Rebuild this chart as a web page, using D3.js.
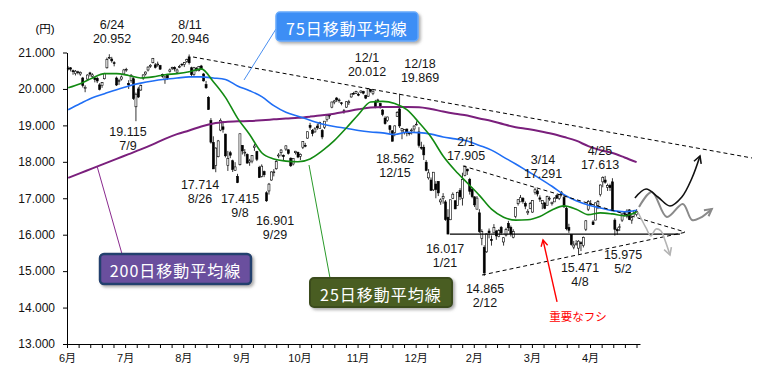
<!DOCTYPE html>
<html>
<head>
<meta charset="utf-8">
<script src="https://cdn.jsdelivr.net/npm/d3@7"></script>
<style>
  body { margin: 0; background: #fff; }
  text { font-family: "Liberation Sans", Arial, "Noto Sans CJK JP", sans-serif; }
</style>
</head>
<body>
<div id="chart-area"></div>
<script>
// daily candles [open, high, low, close], trading days from 2015/6/1 to 2016/5/18
var candles = [
  // 2015 Jun
  [20570,20620,20510,20569],[20580,20600,20480,20543],[20500,20530,20390,20473],[20420,20520,20370,20488],
  [20470,20500,20400,20460],[20410,20480,20360,20457],[20300,20330,20040,20096],[20010,20100,19910,20046],
  [20270,20400,20230,20382],[20440,20470,20340,20407],[20340,20430,20290,20387],[20300,20320,20180,20257],
  [20290,20330,20160,20219],[20110,20160,19960,19990],[20090,20190,20030,20174],[20280,20440,20260,20428],
  [20580,20860,20560,20809],[20850,20952,20820,20868],[20820,20880,20720,20771],[20720,20760,20620,20706],
  [20300,20340,20080,20109],[20210,20280,20110,20235],
  // Jul
  [20270,20370,20230,20329],[20410,20550,20400,20522],[20520,20580,20470,20539],[20150,20240,20000,20112],
  [20230,20410,20170,20376],[20280,20320,19700,19737],[19510,19900,19115,19855],[20000,20060,19750,19779],
  [19970,20120,19950,20089],[20300,20400,20250,20385],[20410,20480,20370,20463],[20520,20620,20480,20600],
  [20620,20680,20580,20650],[20720,20850,20700,20841],[20660,20710,20560,20593],[20670,20750,20610,20683],
  [20640,20660,20520,20544],[20400,20420,20310,20350],[20250,20370,20140,20328],[20370,20380,20250,20302],
  [20480,20560,20450,20522],[20580,20610,20520,20585],
  // Aug
  [20590,20620,20480,20548],[20460,20560,20440,20520],[20600,20660,20570,20614],[20680,20700,20620,20664],
  [20670,20740,20600,20724],[20750,20830,20720,20808],[20880,20946,20670,20720],[20580,20610,20350,20392],
  [20400,20600,20360,20595],[20560,20600,20480,20519],[20500,20630,20480,20620],[20630,20660,20520,20554],
  [20410,20440,20200,20222],[20120,20220,20000,20033],[19770,19800,19430,19435],[19130,19200,18500,18540],
  [18530,18700,17806,17806],[17900,18400,17714,18376],[18140,18600,18120,18574],[18870,19190,18840,19136],
  [18960,19120,18800,18890],
  // Sep
  [18760,18770,18120,18165],[17900,18300,17750,18095],[18250,18300,18100,18182],[18030,18060,17720,17792],
  [17760,17990,17750,17860],[17600,17670,17415,17427],[17920,18770,17900,18770],[18450,18460,18200,18299],
  [18240,18350,18150,18264],[18200,18230,17950,17965],[17990,18080,17890,18026],[18020,18180,17960,18171],
  [18390,18490,18300,18432],[18280,18300,18020,18070],[17840,17890,17560,17571],[17600,17930,17570,17880],
  [17730,17760,17580,17645],[17150,17190,16901,16930],[17200,17420,17100,17388],
  // Oct
  [17500,17740,17480,17722],[17700,17800,17600,17725],[17810,18050,17780,18005],[18160,18240,18100,18186],
  [18250,18350,18150,18322],[18180,18200,18050,18141],[18350,18450,18300,18438],[18330,18340,18200,18234],
  [18100,18120,17860,17891],[17940,18100,17900,18096],[18250,18300,18200,18291],[18260,18280,18100,18131],
  [18150,18230,18050,18207],[18400,18560,18350,18554],[18450,18520,18400,18435],[18650,18830,18630,18825],
  [19000,19070,18880,18947],[18860,18900,18700,18777],[18820,18950,18800,18903],[18980,19050,18880,18935],
  [18910,19100,18900,19083],
  // Nov
  [18860,18900,18620,18683],[18950,19120,18900,19116],[19160,19280,19100,19265],[19280,19290,19180,19265],
  [19500,19650,19470,19642],[19640,19700,19580,19671],[19750,19780,19640,19697],[19680,19740,19620,19697],
  [19620,19640,19550,19596],[19400,19450,19320,19394],[19500,19660,19480,19649],[19620,19700,19560,19649],
  [19780,19880,19760,19860],[19880,19920,19840,19879],[19880,19950,19860,19925],[19850,19900,19800,19847],
  [19900,19960,19880,19944],[19930,19950,19850,19884],[19820,19840,19720,19747],
  // Dec
  [19800,20012,19780,20012],[19990,20000,19900,19938],[19870,19960,19830,19939],[19650,19700,19470,19504],
  [19680,19730,19620,19698],[19600,19620,19460,19492],[19420,19450,19250,19301],[19200,19250,19020,19046],
  [19130,19240,19100,19230],[18990,19010,18780,18883],[18850,18870,18562,18565],[18800,19000,18700,18986],
  [19250,19390,19230,19353],[19450,19869,18930,18986],[18850,18920,18620,18916],[18800,18900,18750,18886],
  [18900,18910,18700,18789],[18800,18820,18720,18769],[18850,18920,18750,18873],[18900,19000,18820,18982],
  [19030,19110,19000,19033],
  // 2016 Jan
  [18820,18950,18390,18450],[18400,18550,18330,18374],[18400,18470,18050,18191],[17990,18050,17740,17767],
  [17560,17800,17510,17697],[17500,17570,17200,17218],[17230,17720,17200,17715],[17390,17470,17000,17240],
  [17460,17470,17060,17147],[16900,17000,16820,16955],[17000,17140,16850,17048],[16900,16950,16380,16416],
  [16480,16700,16017,16017],[16410,16960,16400,16958],[17000,17160,16980,17110],[16930,16950,16700,16708],
  [16800,17180,16800,17163],[17210,17280,16950,17041],[17000,17700,16800,17518],
  // Feb
  [17630,17905,17600,17865],[17800,17810,17640,17750],[17520,17560,17100,17191],[17250,17300,17000,17044],
  [17040,17050,16760,16819],[16700,17060,16700,17004],[16600,16700,16050,16085],[15900,16150,15710,16082],
  [15650,15710,14865,14952],[15530,16030,15500,16022],[16100,16170,15900,16054],[15870,15980,15700,15836],
  [16050,16290,16050,16196],[16100,16130,15860,15967],[15950,16150,15930,16111],[16200,16240,16000,16052],
  [15800,15930,15700,15916],[15990,16190,15950,16140],[16310,16380,16100,16188],[16200,16250,15950,16027],
  // Mar
  [15930,16150,15900,16085],[16500,16750,16450,16747],[16850,16970,16800,16960],[16900,17090,16900,17015],
  [17000,17030,16850,16912],[16860,16910,16700,16784],[16600,16700,16540,16642],[16720,16900,16700,16852],
  [16620,16950,16600,16939],[17160,17291,17100,17234],[17200,17250,17050,17117],[17010,17080,16900,16975],
  [16850,16950,16700,16937],[16870,16900,16700,16725],[16800,17070,16800,17049],[17000,17050,16930,17001],
  [16850,16900,16800,16892],[16900,17030,16900,17003],[17070,17110,16980,17003],[16990,17120,16950,17104],
  [17150,17200,17050,17103],[17020,17090,16750,16759],
  // Apr
  [16720,16760,16120,16164],[16200,16300,16050,16123],[16000,16000,15700,15733],[15660,15830,15600,15715],
  [15750,15850,15700,15750],[15630,15850,15471,15822],[15780,15820,15550,15752],[15700,15950,15650,15928],
  [16150,16400,16100,16381],[16700,16950,16650,16911],[16850,16950,16800,16848],[16350,16400,16270,16275],
  [16400,16880,16400,16874],[16800,16950,16700,16906],[17100,17380,17050,17363],[17450,17600,17300,17572],
  [17500,17613,17400,17440],[17300,17400,17200,17353],[17350,17400,17200,17290],[17450,17550,16650,16666],
  // May
  [16400,16450,15975,16147],[16140,16200,16000,16106],[16200,16300,16100,16216],[16400,16600,16350,16565],
  [16600,16650,16500,16579],[16500,16700,16450,16646],[16680,16700,16400,16412],[16400,16500,16300,16466],
  [16600,16680,16500,16653],[16550,16700,16500,16644]
];

// moving averages read every 5th trading day (day 0, 5, 10 ... 235)
var maStep = 5;
var ma25 = [20030,20140,20300,20420,20420,20370,20300,20330,20390,20420,20470,20550,20200,19770,19200,18750,
  18250,18080,18020,18000,18080,18300,18580,18930,19300,19640,19660,19600,19430,19080,18680,18160,
  17760,17420,17080,16700,16480,16400,16410,16500,16680,16790,16700,16550,16600,16570,16520,16620];
var ma75 = [19430,19600,19760,19870,19980,20080,20160,20220,20265,20300,20330,20330,20300,20260,20080,19950,
  19790,19540,19360,19250,19140,19040,18970,18920,18860,18820,18795,18750,18810,18800,18760,18680,
  18630,18570,18450,18320,18130,17940,17740,17540,17330,17100,16930,16815,16735,16660,16630,16670];
var ma200 = [17560,17690,17820,17950,18080,18210,18340,18480,18630,18760,18860,18970,19050,19090,19110,19120,
  19140,19165,19190,19210,19240,19275,19320,19380,19440,19490,19505,19505,19505,19500,19450,19380,
  19320,19270,19190,19120,19030,18950,18900,18840,18770,18680,18580,18430,18320,18240,18120,17990];

var yTicks = [13000,14000,15000,16000,17000,18000,19000,20000,21000];
var monthLabels = ["6月","7月","8月","9月","10月","11月","12月","2月","3月","4月"];

// highs / lows written on the chart
var notes = [
  ["6/24","20.952"],["8/11","20.946"],["19.115","7/9"],["17.714","8/26"],["17.415","9/8"],
  ["16.901","9/29"],["12/1","20.012"],["12/18","19.869"],["18.562","12/15"],["2/1","17.905"],
  ["16.017","1/21"],["14.865","2/12"],["3/14","17.291"],["4/25","17.613"],["15.471","4/8"],["15.975","5/2"]
];
var notePos = [[112,29],[190,29],[128,136],[200,189],[240,203],[275,225],[367,62],[420,68],
  [395,163],[466,146],[445,253],[485,293],[543,164],[600,155],[580,272],[623,259]];

// trend lines, [day, price]
var resistance = [[51.6,20877],[282.7,18105]];
var upperWedge = [[163.2,17886],[255,16075]];
var lowerWedge = [[171.1,14894],[255.8,16075]];
var support = {price: 16017, from: 157.8, to: 252.9};

// scenario arrows after the last candle, [day, price]
var upPath = [[234.3,17007],[238.9,17254],[243.8,17035],[248.8,16788],[253.7,17035],[257.9,17556],[261.2,18160]];
var sidePath = [[236.0,16761],[241.3,17172],[247.5,16486],[254.1,16843],[257.9,16404],[261.2,16459],[266.1,16706]];
var downPath = [[235.5,16623],[238.9,16184],[240.9,15965],[243.0,16157],[245.1,16102],[246.7,15855],[248.8,15443]];
var keyArrow = [[202.1,14154],[196.3,15855]];

var width = 760, height = 380;

var svg = d3.select("#chart-area")
  .append("svg")
    .attr("width", width)
    .attr("height", height);

var x = d3.scaleLinear().domain([-0.5, 236.4]).range([67, 640]);
var y = d3.scaleLinear().domain([13000, 21000]).range([344, 52.5]);
var slot = d3.scaleLinear().domain([0, 49.3]).range([67, 640]);

var defs = svg.append("defs");
var shadow = defs.append("filter").attr("id", "shadow")
  .attr("x", "-10%").attr("y", "-20%").attr("width", "130%").attr("height", "160%");
shadow.append("feDropShadow").attr("dx", 2).attr("dy", 2).attr("stdDeviation", 1.5)
  .attr("flood-color", "#777").attr("flood-opacity", 0.6);

// Y axis
var yAxis = svg.append("g")
  .attr("transform", "translate(67,0)")
  .call(d3.axisLeft(y).tickValues(yTicks).tickSize(4).tickSizeOuter(0).tickPadding(8)
    .tickFormat(function(d){ return (d / 1000).toFixed(3); }));
yAxis.selectAll("text").style("font-size", "12px").attr("fill", "#111");
yAxis.selectAll("path,line").attr("stroke", "#000");

svg.append("text")
  .attr("x", 45).attr("y", 33)
  .attr("text-anchor", "middle")
  .style("font-size", "11.5px")
  .text("(円)");

// X axis
var xAxis = svg.append("g")
  .attr("transform", "translate(0,344)")
  .call(d3.axisBottom(slot).tickValues(d3.range(0, 50)).tickSize(4).tickSizeOuter(0).tickPadding(6)
    .tickFormat(function(k){ return k % 5 === 0 ? monthLabels[k / 5] : ""; }));
xAxis.selectAll("text").style("font-size", "11px").attr("fill", "#111");
xAxis.selectAll("path,line").attr("stroke", "#000");

// candles
var cg = svg.append("g");
cg.selectAll(".wick")
  .data(candles)
  .enter()
  .append("line")
    .attr("x1", function(d, i){ return x(i); })
    .attr("x2", function(d, i){ return x(i); })
    .attr("y1", function(d){ return y(d[1]); })
    .attr("y2", function(d){ return y(d[2]); })
    .attr("stroke", "#000")
    .attr("stroke-width", 0.8);

cg.selectAll(".body")
  .data(candles)
  .enter()
  .append("rect")
    .attr("x", function(d, i){ return x(i) - 1; })
    .attr("width", 2)
    .attr("y", function(d){ return y(Math.max(d[0], d[3])); })
    .attr("height", function(d){ return Math.max(0.8, Math.abs(y(d[0]) - y(d[3]))); })
    .attr("fill", function(d){ return d[3] >= d[0] ? "#fff" : "#000"; })
    .attr("stroke", "#000")
    .attr("stroke-width", 0.6);

// moving averages
var maLine = d3.line()
  .x(function(d, k){ return x(k * maStep); })
  .y(function(d){ return y(d); })
  .curve(d3.curveMonotoneX);

svg.append("path").attr("d", maLine(ma200)).attr("fill", "none")
  .attr("stroke", "#7a1f7c").attr("stroke-width", 2);
svg.append("path").attr("d", maLine(ma75)).attr("fill", "none")
  .attr("stroke", "#1f6ef5").attr("stroke-width", 1.6);
svg.append("path").attr("d", maLine(ma25)).attr("fill", "none")
  .attr("stroke", "#128a12").attr("stroke-width", 1.6);

// trend lines
var straight = d3.line()
  .x(function(d){ return x(d[0]); })
  .y(function(d){ return y(d[1]); });

[resistance, upperWedge, lowerWedge].forEach(function(t){
  svg.append("path").attr("d", straight(t))
    .attr("fill", "none").attr("stroke", "#000")
    .attr("stroke-width", 1).attr("stroke-dasharray", "4,3");
});

svg.append("line")
  .attr("x1", x(support.from)).attr("x2", x(support.to))
  .attr("y1", y(support.price)).attr("y2", y(support.price))
  .attr("stroke", "#000").attr("stroke-width", 1.2);

// scenario arrows
function chevron(pts, color, w, size) {
  var p0 = [x(pts[pts.length - 2][0]), y(pts[pts.length - 2][1])];
  var p1 = [x(pts[pts.length - 1][0]), y(pts[pts.length - 1][1])];
  var a = Math.atan2(p1[1] - p0[1], p1[0] - p0[0]) + Math.PI;
  var l = [p1[0] + size * Math.cos(a - 0.5), p1[1] + size * Math.sin(a - 0.5)];
  var r = [p1[0] + size * Math.cos(a + 0.5), p1[1] + size * Math.sin(a + 0.5)];
  svg.append("path")
    .attr("d", "M" + l + "L" + p1 + "L" + r)
    .attr("fill", "none").attr("stroke", color).attr("stroke-width", w)
    .attr("stroke-linejoin", "miter");
}

var curvy = d3.line()
  .x(function(d){ return x(d[0]); })
  .y(function(d){ return y(d[1]); })
  .curve(d3.curveCatmullRom);

[[downPath, "#b4b4b4", 1.6], [sidePath, "#8a8a8a", 2], [upPath, "#111", 1.6]].forEach(function(s){
  svg.append("path").attr("d", curvy(s[0]))
    .attr("fill", "none").attr("stroke", s[1]).attr("stroke-width", s[2]);
  chevron(s[0], s[1], s[2], 8);
});

// 重要なフシ
svg.append("path").attr("d", straight(keyArrow))
  .attr("fill", "none").attr("stroke", "#f00").attr("stroke-width", 1.4);
chevron(keyArrow, "#f00", 1.4, 7);
svg.append("text")
  .attr("x", 578).attr("y", 321)
  .attr("text-anchor", "middle")
  .style("font-size", "11.5px")
  .style("font-family", "'Noto Sans CJK JP', sans-serif")
  .attr("fill", "#f00")
  .text("重要なフシ");

// high / low notes, two lines each
notes.forEach(function(n, i){
  [0, 1].forEach(function(k){
    svg.append("text")
      .attr("x", notePos[i][0])
      .attr("y", notePos[i][1] + k * 14)
      .attr("text-anchor", "middle")
      .style("font-size", "12.5px")
      .attr("fill", "#161616")
      .text(n[k]);
  });
});

// callouts for the moving averages
var callouts = [
  {label: "75日移動平均線", box: [276, 12, 142, 29], fill: "#3d8ef5", edge: "#66a9fb", lw: 1.5,
   pointer: [[244, 80], [276, 29]], pcolor: "#4a8ff0"},
  {label: "200日移動平均線", box: [100, 254, 151, 30], fill: "#6b4f9e", edge: "#24406e", lw: 2.5,
   pointer: [[97, 166], [122, 254]], pcolor: "#8a2a8e"},
  {label: "25日移動平均線", box: [310, 278, 142, 29], fill: "#4a5d24", edge: "#3a4c1a", lw: 2,
   pointer: [[309, 165], [330, 278]], pcolor: "#2a9a2a"}
];

callouts.forEach(function(c){
  svg.append("line")
    .attr("x1", c.pointer[0][0]).attr("y1", c.pointer[0][1])
    .attr("x2", c.pointer[1][0]).attr("y2", c.pointer[1][1])
    .attr("stroke", c.pcolor).attr("stroke-width", 1);
  svg.append("rect")
    .attr("x", c.box[0]).attr("y", c.box[1])
    .attr("width", c.box[2]).attr("height", c.box[3])
    .attr("rx", 4)
    .attr("fill", c.fill)
    .attr("stroke", c.edge).attr("stroke-width", c.lw)
    .attr("filter", "url(#shadow)");
  svg.append("text")
    .attr("x", c.box[0] + c.box[2] / 2)
    .attr("y", c.box[1] + c.box[3] / 2 + 1)
    .attr("text-anchor", "middle")
    .attr("dominant-baseline", "central")
    .style("font-family", "'Noto Sans CJK JP', sans-serif")
    .style("font-size", "16px")
    .style("letter-spacing", "1px")
    .attr("fill", "#fff")
    .text(c.label);
});
</script>
</body>
</html>
